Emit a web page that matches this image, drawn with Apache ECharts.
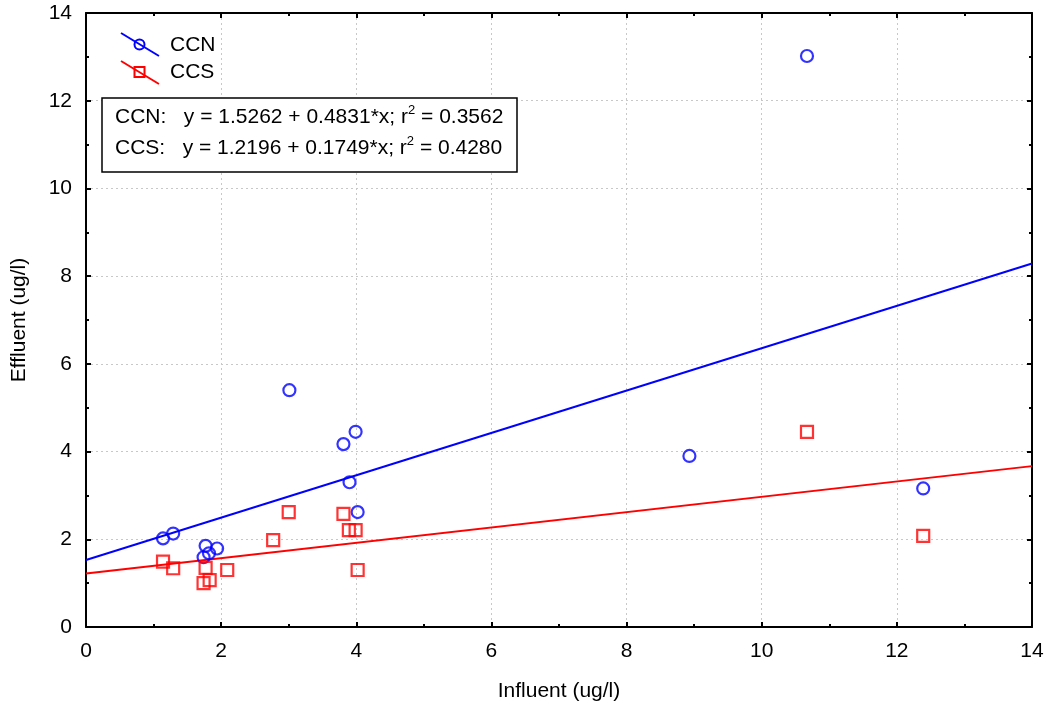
<!DOCTYPE html>
<html>
<head>
<meta charset="utf-8">
<script src="https://cdn.jsdelivr.net/npm/echarts@6/dist/echarts.min.js"></script>
<style>html,body{margin:0;padding:0;background:#fff}#c{width:1050px;height:714px}</style>
</head>
<body>
<div id="c"></div>
<script>
// Data
const ccnX = [1.14, 1.29, 1.74, 1.77, 1.82, 1.94, 3.01, 3.81, 3.90, 3.99, 4.02, 8.93, 10.67, 12.39];
const ccnY = [2.02, 2.13, 1.59, 1.85, 1.68, 1.79, 5.40, 4.17, 3.30, 4.45, 2.62, 3.90, 13.02, 3.16];
const ccsX = [1.14, 1.29, 1.74, 1.77, 1.83, 2.09, 2.77, 3.00, 3.81, 3.89, 3.99, 4.02, 10.67, 12.39];
const ccsY = [1.49, 1.34, 1.00, 1.35, 1.07, 1.30, 1.98, 2.62, 2.58, 2.21, 2.21, 1.30, 4.45, 2.08];
// Regression fits as printed on the chart
const fitNames = ['CCN', 'CCS'];
const fitIntercept = [1.5262, 1.2196];
const fitSlope = [0.4831, 0.1749];
const fitR2 = ['0.3562', '0.4280'];
const xTicks = [0, 2, 4, 6, 8, 10, 12, 14];
const yTicks = [0, 2, 4, 6, 8, 10, 12, 14];

const FONT = '"Liberation Sans", Arial, sans-serif';
const FS = 21;
const BLUE = '#0000ff', RED = '#ff0000';
const pair = (xs, ys) => xs.map((x, i) => [x, ys[i]]);
const fitLine = (i) => [[xTicks[0], fitIntercept[i] + fitSlope[i] * xTicks[0]],
                        [xTicks[xTicks.length - 1], fitIntercept[i] + fitSlope[i] * xTicks[xTicks.length - 1]]];

const chart = echarts.init(document.getElementById('c'), null, {renderer: 'canvas'});

function axisBase(showLabel, showSplit) {
  return {
    type: 'value', min: yTicks[0], max: 14, interval: 2,
    axisLine: {show: true, onZero: false, lineStyle: {color: '#000', width: 2}},
    axisTick: {show: true, inside: true, length: 5, lineStyle: {color: '#000', width: 2}},
    minorTick: {show: true, splitNumber: 2, length: 3, lineStyle: {color: '#000', width: 2}},
    axisLabel: {show: showLabel, color: '#000', fontFamily: FONT, fontSize: FS, margin: 14},
    splitLine: {show: showSplit, lineStyle: {color: '#c8c8c8', type: [2, 3], width: 1}},
    minorSplitLine: {show: false}
  };
}

const eqText = fitNames.map((n, i) =>
  '{t|' + n + ':   y = ' + fitIntercept[i].toFixed(4) + ' + ' + fitSlope[i].toFixed(4) + '*x; r}{s|2}{t| = ' + fitR2[i] + '}'
).join('\n');

const option = {
  animation: false,
  backgroundColor: '#fff',
  grid: {left: 86, right: 18, top: 13, bottom: 87, containLabel: false, outerBoundsMode: 'none'},
  xAxis: [
    Object.assign(axisBase(true, true), {position: 'bottom',
      name: 'Influent (ug/l)', nameLocation: 'middle', nameGap: 54,
      nameTextStyle: {color: '#000', fontFamily: FONT, fontSize: FS}}),
    Object.assign(axisBase(false, false), {position: 'top'})
  ],
  yAxis: [
    Object.assign(axisBase(true, true), {position: 'left',
      name: 'Effluent (ug/l)', nameLocation: 'middle', nameGap: 56, nameRotate: 90,
      nameTextStyle: {color: '#000', fontFamily: FONT, fontSize: FS}}),
    Object.assign(axisBase(false, false), {position: 'right'})
  ],
  series: [
    {type: 'line', name: 'CCN fit', data: fitLine(0), showSymbol: false, symbol: 'none',
     lineStyle: {color: BLUE, width: 2}, z: 2, silent: true},
    {type: 'line', name: 'CCS fit', data: fitLine(1), showSymbol: false, symbol: 'none',
     lineStyle: {color: RED, width: 2}, z: 2, silent: true},
    {type: 'scatter', name: 'CCN', data: pair(ccnX, ccnY), symbol: 'circle', symbolSize: 12,
     itemStyle: {color: 'rgba(0,0,0,0)', borderColor: BLUE, borderWidth: 2.2}, z: 3},
    {type: 'scatter', name: 'CCS', data: pair(ccsX, ccsY), symbol: 'rect', symbolSize: 12,
     itemStyle: {color: 'rgba(0,0,0,0)', borderColor: RED, borderWidth: 2.2}, z: 3}
  ],
  graphic: [
    // legend icons
    {type: 'line', shape: {x1: 121, y1: 33, x2: 159, y2: 56}, style: {stroke: BLUE, lineWidth: 2}, z: 10},
    {type: 'circle', shape: {cx: 139.5, cy: 44.5, r: 5}, style: {fill: 'rgba(0,0,0,0)', stroke: BLUE, lineWidth: 2}, z: 10},
    {type: 'text', left: 170, top: 35, style: {text: 'CCN', font: FS + 'px ' + FONT, fill: '#000'}, z: 10},
    {type: 'line', shape: {x1: 121, y1: 61, x2: 159, y2: 84}, style: {stroke: RED, lineWidth: 2}, z: 10},
    {type: 'rect', shape: {x: 134.5, y: 67, width: 10, height: 10}, style: {fill: 'rgba(0,0,0,0)', stroke: RED, lineWidth: 2}, z: 10},
    {type: 'text', left: 170, top: 62, style: {text: 'CCS', font: FS + 'px ' + FONT, fill: '#000'}, z: 10},
    // equation box
    {type: 'rect', shape: {x: 102, y: 98, width: 415, height: 74},
     style: {fill: '#fff', stroke: '#000', lineWidth: 1.5}, z: 10},
    {type: 'text', left: 115, top: 104, z: 11,
     style: {text: eqText, fill: '#000', font: FS + 'px ' + FONT,
       rich: {
         t: {fontFamily: FONT, fontSize: FS, lineHeight: 31, fill: '#000'},
         s: {fontFamily: FONT, fontSize: 13, lineHeight: 31, padding: [0, 0, 14, 0], fill: '#000'}
       }}}
  ]
};
chart.setOption(option);
</script>
</body>
</html>
